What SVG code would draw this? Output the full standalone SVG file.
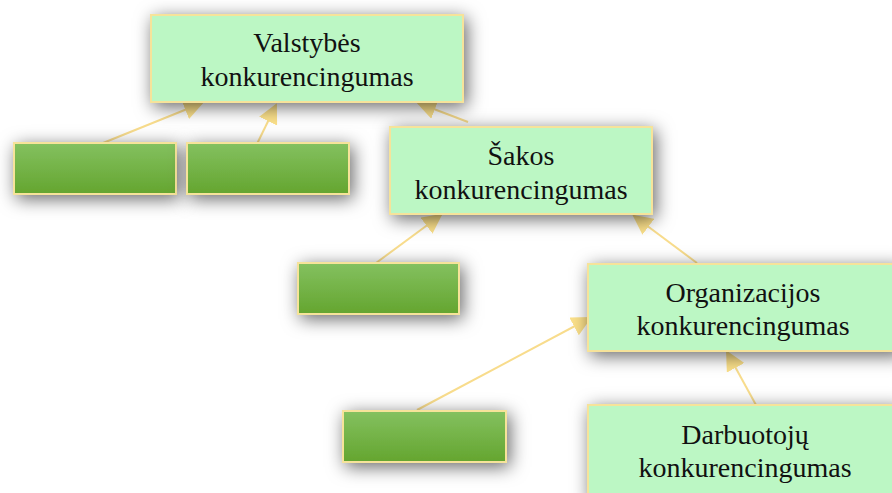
<svg xmlns="http://www.w3.org/2000/svg" width="892" height="493" viewBox="0 0 892 493">
  <style>
    .main { fill: #bcf7c4; stroke: #f6e39a; stroke-width: 2; filter: url(#shadow); }
    .leaf { fill: url(#leafGrad); stroke: #f6e39a; stroke-width: 2; filter: url(#shadow); }
    .label { font-family: "Liberation Serif", "Times New Roman", serif; font-size: 28px; fill: #111; text-anchor: middle; }
    .link { stroke: #f8dc8c; stroke-width: 2; fill: none; marker-end: url(#arrow); }
  </style>
  <defs>
    <linearGradient id="leafGrad" x1="0" y1="0" x2="0" y2="1">
      <stop offset="0" stop-color="#84c160"/>
      <stop offset="1" stop-color="#64a52f"/>
    </linearGradient>
    <filter id="shadow" x="-25%" y="-50%" width="150%" height="200%">
      <feDropShadow dx="3" dy="4" stdDeviation="9" flood-color="#000" flood-opacity="0.6"/>
    </filter>
    <marker id="arrow" viewBox="0 0 10 10" refX="9" refY="5" markerWidth="20" markerHeight="20" markerUnits="userSpaceOnUse" orient="auto">
      <path d="M0,0 L10,5 L0,10 Z" fill="#fbe08a"/>
    </marker>
  </defs>

  <g id="connectors">
    <line class="link" x1="103" y1="143" x2="202" y2="103"/>
    <line class="link" x1="255" y1="148" x2="276" y2="105"/>
    <line class="link" x1="468" y1="122" x2="418" y2="103"/>
    <line class="link" x1="376" y1="263" x2="441" y2="215"/>
    <line class="link" x1="697" y1="263" x2="634" y2="216"/>
    <line class="link" x1="417" y1="410" x2="590" y2="318"/>
    <line class="link" x1="756" y1="405" x2="727" y2="352"/>
  </g>

  <g id="valstybes">
    <rect class="main" x="151" y="15" width="312" height="87"/>
    <text class="label" x="307" y="52">Valstybės</text>
    <text class="label" x="307" y="86">konkurencingumas</text>
  </g>

  <g id="leaf-a">
    <rect class="leaf" x="14" y="143" width="162" height="51"/>
  </g>
  <g id="leaf-b">
    <rect class="leaf" x="187" y="143" width="162" height="51"/>
  </g>

  <g id="sakos">
    <rect class="main" x="390" y="127" width="262" height="87"/>
    <text class="label" x="521" y="165">Šakos</text>
    <text class="label" x="521" y="199">konkurencingumas</text>
  </g>

  <g id="leaf-c">
    <rect class="leaf" x="298" y="263" width="161" height="51"/>
  </g>

  <g id="organizacijos">
    <rect class="main" x="588" y="264" width="312" height="87"/>
    <text class="label" x="743" y="302">Organizacijos</text>
    <text class="label" x="743" y="335">konkurencingumas</text>
  </g>

  <g id="leaf-d">
    <rect class="leaf" x="343" y="411" width="163" height="51"/>
  </g>

  <g id="darbuotoju">
    <rect class="main" x="588" y="405" width="312" height="95"/>
    <text class="label" x="745" y="444">Darbuotojų</text>
    <text class="label" x="745" y="477">konkurencingumas</text>
  </g>
</svg>
